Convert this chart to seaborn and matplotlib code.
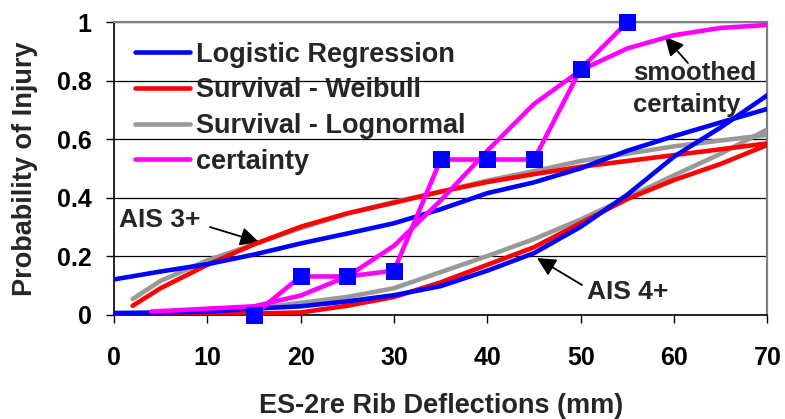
import matplotlib
matplotlib.use("Agg")
import matplotlib.pyplot as plt
import seaborn as sns

# Deflection grid (mm) for the fitted risk curves
x_logit = [0, 5, 10, 15, 20, 25, 30, 35, 40, 45, 50, 55, 60, 65, 70]
x_surv = [2, 5, 10, 15, 20, 25, 30, 35, 40, 45, 50, 55, 60, 65, 70]

# AIS 3+ risk curves
logit_ais3 = [0.12, 0.147, 0.172, 0.205, 0.243, 0.277, 0.312, 0.36, 0.415, 0.452, 0.50, 0.56, 0.61, 0.657, 0.703]
weibull_ais3 = [0.03, 0.09, 0.17, 0.24, 0.30, 0.346, 0.382, 0.42, 0.453, 0.48, 0.505, 0.525, 0.545, 0.565, 0.585]
lognorm_ais3 = [0.053, 0.115, 0.185, 0.24, 0.295, 0.345, 0.385, 0.42, 0.458, 0.49, 0.525, 0.55, 0.575, 0.595, 0.614]

# AIS 4+ risk curves
logit_ais4 = [0.005, 0.007, 0.01, 0.02, 0.028, 0.045, 0.066, 0.097, 0.15, 0.21, 0.30, 0.41, 0.54, 0.64, 0.75]
weibull_ais4 = [0.0, 0.0, 0.0, 0.003, 0.007, 0.03, 0.06, 0.11, 0.17, 0.23, 0.313, 0.395, 0.46, 0.515, 0.58]
lognorm_ais4 = [0.0, 0.003, 0.01, 0.02, 0.04, 0.06, 0.09, 0.145, 0.2, 0.258, 0.325, 0.40, 0.476, 0.55, 0.633]

# Certainty method: raw step points and smoothed curve
x_cert = [15, 20, 25, 30, 35, 40, 45, 50, 55]
cert = [0.0, 0.13, 0.13, 0.15, 0.53, 0.53, 0.53, 0.84, 1.0]
x_smooth = [4, 10, 15, 20, 25, 30, 35, 40, 45, 50, 55, 60, 65, 70]
cert_smooth = [0.01, 0.02, 0.028, 0.065, 0.13, 0.235, 0.39, 0.56, 0.72, 0.835, 0.91, 0.955, 0.98, 0.99]

x_ticks = [0, 10, 20, 30, 40, 50, 60, 70]
y_ticks = [0, 0.2, 0.4, 0.6, 0.8, 1.0]
y_ticklabels = ["0", "0.2", "0.4", "0.6", "0.8", "1"]

BLUE, RED, GRAY, MAGENTA = "#0000FF", "#FF0000", "#999999", "#FF00FF"
LW = 3.3

sns.set_theme(style="white")
plt.rcParams["font.family"] = ["Liberation Sans", "DejaVu Sans"]
plt.rcParams["font.weight"] = "bold"

fig = plt.figure(figsize=(7.85, 4.19), dpi=100)
ax = fig.add_axes([0.1452, 0.2494, 0.8325, 0.698])

handles = {}
sns.lineplot(x=x_surv, y=lognorm_ais4, color=GRAY, linewidth=LW, ax=ax, zorder=3)
sns.lineplot(x=x_surv, y=lognorm_ais3, color=GRAY, linewidth=LW, ax=ax, zorder=3)
handles["Survival - Lognormal"] = ax.lines[-1]
sns.lineplot(x=x_surv, y=weibull_ais4, color=RED, linewidth=LW, ax=ax, zorder=3.1)
sns.lineplot(x=x_surv, y=weibull_ais3, color=RED, linewidth=LW, ax=ax, zorder=3.1)
handles["Survival - Weibull"] = ax.lines[-1]
sns.lineplot(x=x_logit, y=logit_ais4, color=BLUE, linewidth=LW, ax=ax, zorder=3.2)
sns.lineplot(x=x_logit, y=logit_ais3, color=BLUE, linewidth=LW, ax=ax, zorder=3.2)
handles["Logistic Regression"] = ax.lines[-1]
sns.lineplot(x=x_smooth, y=cert_smooth, color=MAGENTA, linewidth=LW, ax=ax, zorder=3.3)
handles["certainty"] = ax.lines[-1]
sns.lineplot(x=x_cert, y=cert, color=MAGENTA, linewidth=LW, marker="s",
             markersize=11, markerfacecolor=BLUE, markeredgecolor=BLUE,
             ax=ax, zorder=3.4, clip_on=False)

ax.set_xlim(0, 70)
ax.set_ylim(0, 1)
ax.set_xticks(x_ticks)
ax.set_yticks(y_ticks)
ax.set_yticklabels(y_ticklabels)
ax.tick_params(axis="both", direction="out", length=6, width=1, colors="black",
               labelsize=18)
ax.tick_params(axis="x", pad=17, bottom=True)
ax.tick_params(axis="y", pad=10, left=True)
for lab in ax.get_xticklabels() + ax.get_yticklabels():
    lab.set_fontweight("bold")

ax.yaxis.grid(True, color="black", linewidth=0.9)
ax.xaxis.grid(False)
ax.set_axisbelow(True)
for side in ("left", "bottom"):
    ax.spines[side].set_color("black")
    ax.spines[side].set_linewidth(1.2)
for side in ("top", "right"):
    ax.spines[side].set_color("#808080")
    ax.spines[side].set_linewidth(1.6)

ax.set_xlabel("ES-2re Rib Deflections (mm)", fontsize=19.5, fontweight="bold")
ax.xaxis.set_label_coords(0.5, -0.27)
ax.set_ylabel("Probability of Injury", fontsize=19.5, fontweight="bold", labelpad=14)

order = ["Logistic Regression", "Survival - Weibull", "Survival - Lognormal", "certainty"]
ax.legend([handles[k] for k in order], order, loc="upper left",
          bbox_to_anchor=(0.011, 0.979), frameon=False, borderpad=0,
          handlelength=2.05, handletextpad=0.22, labelspacing=0.36,
          prop={"size": 19.5, "weight": "bold"})

# Curve-group labels with pointer arrows
arrow = dict(arrowstyle="-|>", color="black", lw=1.3, mutation_scale=28,
             shrinkA=0, shrinkB=0)
ax.text(4.93, 0.323, "AIS 3+", fontsize=19, fontweight="bold", ha="center", va="center")
ax.annotate("", xy=(15.53, 0.248), xytext=(10.28, 0.299), arrowprops=arrow)
ax.text(55.06, 0.077, "AIS 4+", fontsize=19, fontweight="bold", ha="center", va="center")
ax.annotate("", xy=(45.31, 0.193), xytext=(50.13, 0.101), arrowprops=arrow)
ax.text(55.6, 0.771, "smoothed\ncertainty", fontsize=18.5, fontweight="bold",
        ha="left", va="center", linespacing=1.45)
ax.annotate("", xy=(59.02, 0.949), xytext=(61.48, 0.86), arrowprops=arrow)

fig.savefig("out.png", dpi=100)
